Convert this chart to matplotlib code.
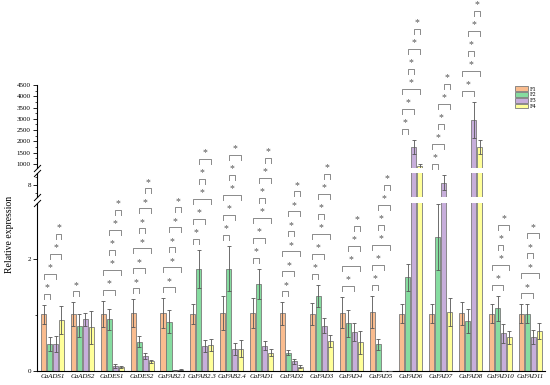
import numpy as np
import matplotlib
matplotlib.use("Agg")
import matplotlib.pyplot as plt
from matplotlib.patches import Patch

plt.rcParams['font.family'] = ['Liberation Serif', 'DejaVu Serif']

genes = ['CaADS1', 'CaADS2', 'CaDES1', 'CaDES2', 'CaFAB2.1', 'CaFAB2.3', 'CaFAB2.4',
         'CaFAD1', 'CaFAD2', 'CaFAD3', 'CaFAD4', 'CaFAD5', 'CaFAD6', 'CaFAD7',
         'CaFAD8', 'CaFAD10', 'CaFAD11']
series = ['F1', 'F2', 'F3', 'F4']

F1 = [1.01, 1.02, 1.02, 1.03, 1.03, 1.02, 1.04, 1.03, 1.03, 1.02, 1.04, 1.05, 1.02, 1.02, 1.03, 1.02, 1.02]
F1_sd = [0.17, 0.21, 0.23, 0.25, 0.27, 0.18, 0.30, 0.27, 0.20, 0.19, 0.28, 0.29, 0.17, 0.17, 0.20, 0.17, 0.17]
F2 = [0.48, 0.81, 0.92, 0.52, 0.88, 1.82, 1.83, 1.56, 0.33, 1.34, 0.85, 0.48, 1.67, 2.39, 0.89, 1.12, 1.02]
F2_sd = [0.13, 0.21, 0.18, 0.10, 0.21, 0.34, 0.41, 0.27, 0.05, 0.20, 0.24, 0.10, 0.24, 0.59, 0.21, 0.22, 0.17]
F3 = [0.48, 0.92, 0.09, 0.27, 0.01, 0.45, 0.39, 0.45, 0.17, 0.81, 0.70, 0.003, 1760, 8.3, 2950, 0.67, 0.61]
F3_sd = [0.14, 0.12, 0.03, 0.06, 0.005, 0.11, 0.11, 0.08, 0.04, 0.13, 0.16, 0.002, 300, 0.95, 800, 0.17, 0.12]
F4 = [0.91, 0.78, 0.07, 0.17, 0.02, 0.46, 0.40, 0.33, 0.08, 0.54, 0.51, 0.003, 925, 1.05, 1760, 0.60, 0.71]
F4_sd = [0.25, 0.29, 0.02, 0.03, 0.01, 0.11, 0.15, 0.07, 0.02, 0.11, 0.20, 0.002, 90, 0.25, 300, 0.12, 0.14]

all6 = [(0, 1), (0, 2), (0, 3), (1, 2), (1, 3), (2, 3)]
sig = [
    [(0, 1), (0, 2), (1, 3), (2, 3)],
    [(0, 1)],
    [(0, 2), (0, 3), (1, 2), (1, 3), (2, 3)],
    all6,
    [(0, 2), (0, 3), (1, 2), (1, 3), (2, 3)],
    [(0, 1), (0, 2), (0, 3), (1, 2), (1, 3)],
    [(0, 1), (0, 2), (0, 3), (1, 2), (1, 3)],
    all6,
    all6,
    all6,
    [(0, 2), (0, 3), (1, 3), (2, 3)],
    all6,
    all6,
    [(0, 1), (0, 2), (1, 2), (1, 3), (2, 3)],
    [(0, 2), (0, 3), (1, 2), (1, 3), (2, 3)],
    [(0, 2), (0, 3), (1, 2), (1, 3)],
    [(0, 2), (0, 3), (1, 2), (1, 3)],
]

colors = ['#F9BC8F', '#86DCA0', '#C7AEDB', '#FFFF99']

# broken y axis as a piecewise linear scale (output in pixels above the x axis)
vs = np.array([0.0, 3.0, 6.5, 9.5, 820.0, 9000.0])
hs = np.array([0.0, 168.0, 174.0, 198.0, 203.0, 203.0 + (9000 - 820) / 44.3])


def fwd(v):
    v = np.asarray(v, dtype=float)
    return np.where(v < 0, v * 56.0,
                    np.where(v > vs[-1], hs[-1] + (v - vs[-1]) / 44.3, np.interp(v, vs, hs)))


def inv(h):
    h = np.asarray(h, dtype=float)
    return np.where(h < 0, h / 56.0,
                    np.where(h > hs[-1], vs[-1] + (h - hs[-1]) * 44.3, np.interp(h, hs, vs)))


fig = plt.figure(figsize=(5.5, 3.85), dpi=100)
ax = fig.add_axes([37 / 550, 14 / 385, 508 / 550, 371 / 385])
ax.set_yscale('function', functions=(fwd, inv))
ax.set_ylim(0, float(inv(371)))
ax.set_xlim(-0.52, 16.49)

x = np.arange(len(genes))
means = [F1, F2, F3, F4]
sds = [F1_sd, F2_sd, F3_sd, F4_sd]
w = 0.2
for k in range(4):
    xs = x + (k - 1.5) * w
    ax.bar(xs, means[k], width=0.17, color=colors[k], edgecolor='#7a7a7a',
           linewidth=0.6, zorder=2)
    ax.errorbar(xs, means[k], yerr=sds[k], fmt='none', ecolor='#555555',
                elinewidth=0.6, capsize=1.3, capthick=0.6, zorder=3)

# white gaps through the bars
ax.axhspan(vs[1], vs[2], color='white', zorder=4, lw=0)
ax.axhspan(vs[3], vs[4], color='white', zorder=4, lw=0)

# significance brackets
for i, pairs in enumerate(sig):
    top = max(means[k][i] + sds[k][i] for k in range(4))
    h0 = float(fwd(top)) + 11
    for n, (a, b) in enumerate(pairs):
        h = h0 + 20 * n
        xa = i + (a - 1.5) * w
        xb = i + (b - 1.5) * w
        ax.plot([xa, xa, xb, xb], inv([h - 5, h, h, h - 5]), color='#8a8a8a',
                lw=0.7, zorder=5, clip_on=False)
        ax.text((xa + xb) / 2, float(inv(h + 6)), '*', ha='center', va='center',
                fontsize=7, color='#555555', zorder=5)

# spines
for s in ['top', 'right', 'left']:
    ax.spines[s].set_visible(False)
ax.spines['bottom'].set_linewidth(0.8)
yt = ax.get_yaxis_transform()
segs = [(0, vs[1]), (vs[2], vs[3]), (vs[4], 4500)]
for a, b in segs:
    ax.plot([0, 0], [a, b], transform=yt, color='black', lw=0.8, clip_on=False, zorder=6)
for v in [vs[1], vs[2], vs[3], vs[4]]:
    ax.plot([0], [v], transform=yt, marker=[(-1, -1), (1, 1)], markersize=5,
            color='black', mew=0.7, clip_on=False, zorder=6, linestyle='none')

major = [0, 2, 8] + list(range(1000, 4501, 500))
minor = [1, 7, 9] + list(range(1250, 4500, 500))
ax.set_yticks(major, [str(v) for v in major])
ax.set_yticks(minor, minor=True)
ax.tick_params(axis='y', which='major', direction='out', length=3, width=0.6,
               labelsize=5, pad=1.5)
ax.tick_params(axis='y', which='minor', direction='out', length=1.5, width=0.5)

ax.set_xticks(x, genes)
for lab in ax.get_xticklabels():
    lab.set_fontstyle('italic')
ax.tick_params(axis='x', length=0, labelsize=5, pad=2)

fig.text(10 / 550, 1 - 234 / 385, 'Relative expression', rotation=90,
         ha='center', va='center', fontsize=7)

handles = [Patch(facecolor=colors[k], edgecolor='#7a7a7a', linewidth=0.6) for k in range(4)]
fig.legend(handles, series, loc='upper left', bbox_to_anchor=(515 / 550, 1 - 86 / 385),
           frameon=False, fontsize=4.5, handlelength=2.1, handleheight=0.8,
           labelspacing=0.05, handletextpad=0.3, borderpad=0, borderaxespad=0)

fig.savefig('out.png', dpi=100)
